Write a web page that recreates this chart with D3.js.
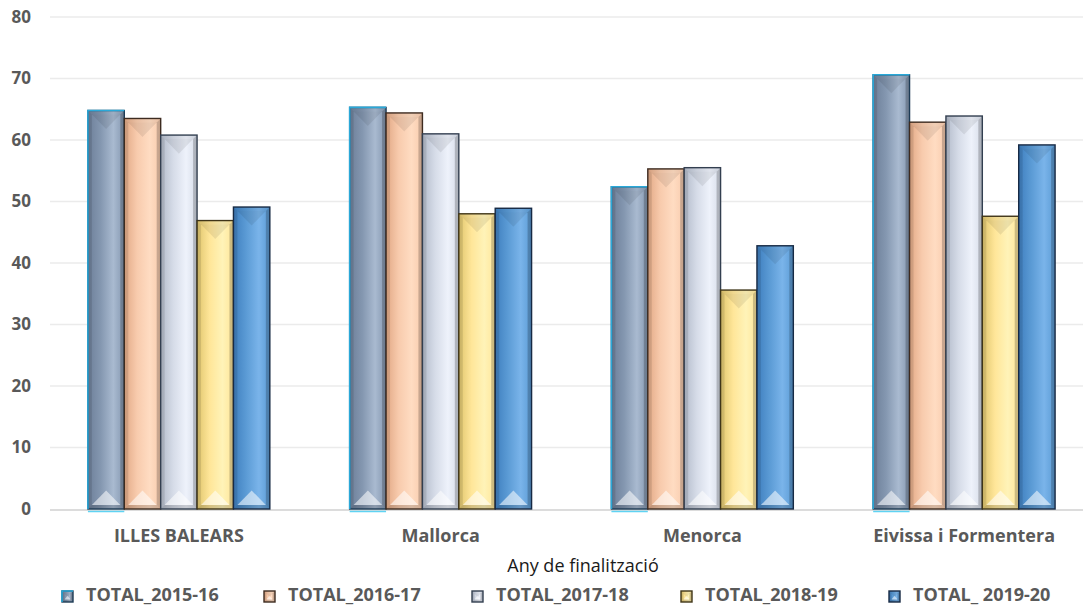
<!DOCTYPE html>
<html>
<head>
<meta charset="utf-8">
<script src="https://cdn.jsdelivr.net/npm/d3@7"></script>
<style>
  html, body { margin: 0; padding: 0; background: #ffffff; }
  svg { display: block; }
  text { font-family: "Open Sans", "Noto Sans", sans-serif; }
</style>
</head>
<body>
<svg id="chart" width="1083" height="605"></svg>
<script>
const categories = ["ILLES BALEARS", "Mallorca", "Menorca", "Eivissa i Formentera"];
const seriesNames = ["TOTAL_2015-16", "TOTAL_2016-17", "TOTAL_2017-18", "TOTAL_2018-19", "TOTAL_ 2019-20"];
const total_2015_16 = [64.8, 65.3, 52.4, 70.6];
const total_2016_17 = [63.5, 64.4, 55.3, 62.9];
const total_2017_18 = [60.8, 61.0, 55.5, 63.9];
const total_2018_19 = [46.9, 48.0, 35.6, 47.6];
const total_2019_20 = [49.1, 48.9, 42.8, 59.2];
const seriesValues = [total_2015_16, total_2016_17, total_2017_18, total_2018_19, total_2019_20];
const yTicks = [0, 10, 20, 30, 40, 50, 60, 70, 80];
const axisTitle = "Any de finalització";

// styles
const palettes = [
  {dark: "#6d7f99", mid: "#8497b0", light: "#a9bad0", border: "#1d3b55", edge: "#2aa8d8"},
  {dark: "#e2a986", mid: "#f8cbad", light: "#ffdcc2", border: "#3d2b20", edge: null},
  {dark: "#b4bccb", mid: "#d6dce8", light: "#eef2fb", border: "#333f50", edge: null},
  {dark: "#e0c66e", mid: "#ffe699", light: "#fff3b8", border: "#3f3518", edge: null},
  {dark: "#3f7fbf", mid: "#5b9bd5", light: "#7ab4ea", border: "#172a44", edge: null}
];

const svg = d3.select("#chart");
const defs = svg.append("defs");
palettes.forEach((p, i) => {
  const g = defs.append("linearGradient").attr("id", "grad" + i)
    .attr("x1", "0").attr("x2", "1").attr("y1", "0").attr("y2", "0");
  g.append("stop").attr("offset", "0").attr("stop-color", p.dark);
  g.append("stop").attr("offset", "0.35").attr("stop-color", p.mid);
  g.append("stop").attr("offset", "0.7").attr("stop-color", p.light);
  g.append("stop").attr("offset", "1").attr("stop-color", p.mid);
});

const x0 = d3.scaleBand().domain(categories).range([48, 1095]).paddingInner(0.305).paddingOuter(0.1525);
const x1 = d3.scaleBand().domain(d3.range(seriesNames.length)).range([0, x0.bandwidth()]);
const y = d3.scaleLinear().domain([0, 80]).range([509, 17]);

// gridlines
svg.append("g").selectAll("line").data(yTicks.filter(t => t > 0)).join("line")
  .attr("x1", 50).attr("x2", 1083)
  .attr("y1", d => y(d)).attr("y2", d => y(d))
  .attr("stroke", "#ebebeb").attr("stroke-width", 1.5);

// y axis labels
const yAxis = d3.axisLeft(y).tickValues(yTicks).tickSize(0).tickPadding(0);
const yg = svg.append("g").attr("transform", "translate(31,0)").call(yAxis);
yg.select(".domain").remove();
yg.selectAll("text").attr("font-size", 17).attr("font-weight", "bold").attr("fill", "#595959")
  .attr("font-family", "'Open Sans', sans-serif");

function drawBar(g, x, yTop, w, h, i, b) {
  const p = palettes[i];
  g.append("rect").attr("x", x).attr("y", yTop).attr("width", w).attr("height", h)
    .attr("fill", `url(#grad${i})`);
  // left strip
  g.append("polygon").attr("points", [[x, yTop], [x + b, yTop + b], [x + b, yTop + h - b], [x, yTop + h]].join(" "))
    .attr("fill", "#000").attr("fill-opacity", 0.1);
  // right strip
  g.append("polygon").attr("points", [[x + w, yTop], [x + w - b, yTop + b], [x + w - b, yTop + h - b], [x + w, yTop + h]].join(" "))
    .attr("fill", "#000").attr("fill-opacity", 0.2);
  // top strip
  g.append("polygon").attr("points", [[x, yTop], [x + w, yTop], [x + w - b, yTop + b], [x + b, yTop + b]].join(" "))
    .attr("fill", "#000").attr("fill-opacity", 0.06);
  // top chevron
  const ch = Math.min(w * 0.4, h / 3);
  g.append("polygon").attr("points", [[x + b, yTop + b], [x + w - b, yTop + b], [x + w / 2, yTop + b + ch]].join(" "))
    .attr("fill", "#000").attr("fill-opacity", 0.08);
  // bottom strip
  g.append("polygon").attr("points", [[x, yTop + h], [x + w, yTop + h], [x + w - b, yTop + h - b], [x + b, yTop + h - b]].join(" "))
    .attr("fill", "#000").attr("fill-opacity", 0.16);
  // bottom light triangle
  g.append("polygon").attr("points", [[x + b, yTop + h - b], [x + w - b, yTop + h - b], [x + w / 2, yTop + h - b - ch]].join(" "))
    .attr("fill", "#fff").attr("fill-opacity", 0.55);
  // border
  g.append("rect").attr("x", x).attr("y", yTop).attr("width", w).attr("height", h)
    .attr("fill", "none").attr("stroke", p.border).attr("stroke-width", 1.4);
  if (p.edge) {
    g.append("path").attr("d", `M${x},${yTop + h} L${x},${yTop} L${x + w},${yTop}`)
      .attr("fill", "none").attr("stroke", p.edge).attr("stroke-width", 1.6);
  }
}

// x axis baseline
svg.append("line").attr("x1", 50).attr("x2", 1083).attr("y1", y(0) + 1).attr("y2", y(0) + 1)
  .attr("stroke", "#d0d0d0").attr("stroke-width", 1.5);

// bars
const barsG = svg.append("g");
categories.forEach((c, ci) => {
  seriesValues.forEach((vals, si) => {
    const bx = x0(c) + x1(si);
    const by = y(vals[ci]);
    const g = barsG.append("g");
    drawBar(g, bx, by, x1.bandwidth(), y(0) - by, si, 4);
  });
  // cyan underline beneath first series
  svg.append("line").attr("x1", x0(c) + x1(0)).attr("x2", x0(c) + x1(0) + x1.bandwidth())
    .attr("y1", y(0) + 2.5).attr("y2", y(0) + 2.5).attr("stroke", "#5fd3f3").attr("stroke-width", 1.5);
});

// category labels
svg.append("g").selectAll("text").data(categories).join("text")
  .attr("x", d => x0(d) + x0.bandwidth() / 2).attr("y", 542)
  .attr("text-anchor", "middle").attr("font-size", 18).attr("font-weight", "bold").attr("fill", "#595959")
  .text(d => d);

// axis title
svg.append("text").attr("x", 583).attr("y", 572).attr("text-anchor", "middle")
  .attr("font-size", 18).attr("fill", "#1a1a1a").text(axisTitle);

// legend
const legendX = [62, 264, 472, 681, 889];
const lg = svg.append("g");
seriesNames.forEach((name, i) => {
  const g = lg.append("g");
  drawBar(g, legendX[i], 591, 11, 11, i, 2.5);
  g.append("text").attr("x", legendX[i] + 24).attr("y", 601)
    .attr("font-size", 18).attr("font-weight", "bold").attr("fill", "#595959").text(name);
});
</script>
</body>
</html>
